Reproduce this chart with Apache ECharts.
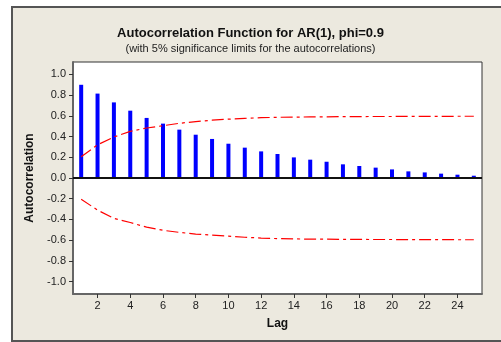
<!DOCTYPE html>
<html>
<head>
<meta charset="utf-8">
<script src="https://cdn.jsdelivr.net/npm/echarts@6/dist/echarts.min.js"></script>
<style>
html,body{margin:0;padding:0;background:#fff;overflow:hidden;}
#c{width:501px;height:342px;}
</style>
</head>
<body>
<div id="c"></div>
<script>
var lags = [1,2,3,4,5,6,7,8,9,10,11,12,13,14,15,16,17,18,19,20,21,22,23,24,25];
var acf = [0.90,0.815,0.73,0.65,0.58,0.525,0.467,0.418,0.377,0.331,0.293,0.257,0.232,0.199,0.177,0.157,0.132,0.116,0.100,0.083,0.064,0.054,0.042,0.032,0.022];
var upperLimit = [0.205,0.32,0.396,0.45,0.483,0.505,0.528,0.545,0.558,0.568,0.576,0.582,0.586,0.588,0.590,0.591,0.592,0.593,0.594,0.594,0.595,0.595,0.595,0.596,0.596];
var lowerLimit = [-0.205,-0.31,-0.39,-0.43,-0.475,-0.505,-0.525,-0.541,-0.552,-0.562,-0.572,-0.58,-0.585,-0.588,-0.590,-0.591,-0.592,-0.593,-0.594,-0.594,-0.595,-0.595,-0.595,-0.596,-0.596];
var xTicks = [2,4,6,8,10,12,14,16,18,20,22,24];
var yTicks = [-1.0,-0.8,-0.6,-0.4,-0.2,0.0,0.2,0.4,0.6,0.8,1.0];

var chart = echarts.init(document.getElementById('c'), null, {renderer:'canvas'});
var font = 'Liberation Sans, Arial, sans-serif';
var dashDot = [12,4,3,4];
function pairs(vals){ return lags.map(function(l,i){ return [l, vals[i]]; }); }

chart.setOption({
  animation: false,
  backgroundColor: '#fff',
  graphic: [{
    type: 'rect', z: -10, silent: true,
    shape: {x: 12, y: 7, width: 800, height: 334},
    style: {fill: '#ECE9DF', stroke: '#555', lineWidth: 2}
  }],
  title: {
    text: 'Autocorrelation Function for AR(1), phi=0.9',
    subtext: '(with 5% significance limits for the autocorrelations)',
    left: 'center', top: 22, itemGap: 3,
    textStyle: {fontFamily: font, fontWeight: 'bold', fontSize: 13, color: '#111'},
    subtextStyle: {fontFamily: font, fontSize: 11, color: '#222'}
  },
  grid: {
    left: 73, right: 19, top: 62, bottom: 48,
    show: true, backgroundColor: '#fff', borderColor: '#333', borderWidth: 1
  },
  xAxis: {
    type: 'value', min: 0.5, max: 25.5,
    name: 'Lag', nameLocation: 'middle', nameGap: 24,
    nameTextStyle: {fontFamily: font, fontWeight: 'bold', fontSize: 12, color: '#111'},
    axisLine: {show: true, onZero: false, lineStyle: {color: '#666', width: 2}},
    axisTick: {show: true, customValues: xTicks, length: 4, lineStyle: {color: '#333'}},
    axisLabel: {customValues: xTicks, fontFamily: font, fontSize: 11, color: '#222', margin: 6},
    splitLine: {show: false}
  },
  yAxis: {
    type: 'value', min: -1.12, max: 1.12,
    name: 'Autocorrelation', nameLocation: 'middle', nameGap: 34,
    nameTextStyle: {fontFamily: font, fontWeight: 'bold', fontSize: 12, color: '#111'},
    axisLine: {show: true, lineStyle: {color: '#666', width: 2}},
    axisTick: {show: true, customValues: yTicks, length: 4, lineStyle: {color: '#333'}},
    axisLabel: {customValues: yTicks, fontFamily: font, fontSize: 11, color: '#222', margin: 7,
      formatter: function(v){ return v.toFixed(1); }},
    splitLine: {show: false}
  },
  series: [
    {
      type: 'bar', data: pairs(acf), barWidth: 4,
      itemStyle: {color: '#0000FF'},
      markLine: {
        silent: true, symbol: ['none','none'], label: {show: false},
        lineStyle: {color: '#111', type: 'solid', width: 2},
        data: [{yAxis: 0}]
      }
    },
    {
      type: 'line', data: pairs(upperLimit), showSymbol: false, symbol: 'none',
      lineStyle: {color: '#FF0000', width: 1.2, type: dashDot}
    },
    {
      type: 'line', data: pairs(lowerLimit), showSymbol: false, symbol: 'none',
      lineStyle: {color: '#FF0000', width: 1.2, type: dashDot}
    }
  ]
});
</script>
</body>
</html>
